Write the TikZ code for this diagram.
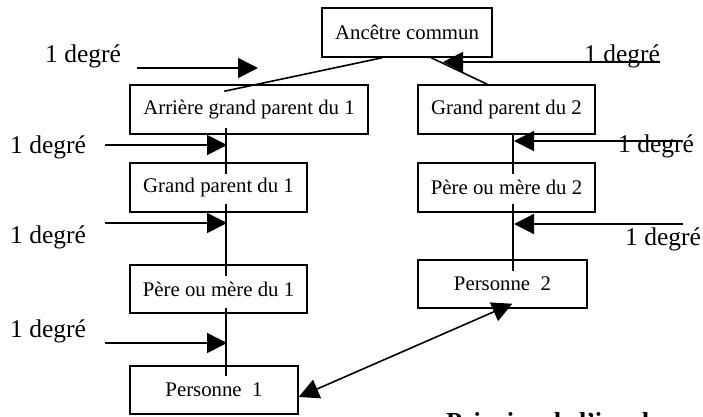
\documentclass[tikz,border=0pt]{standalone}
\usepackage{fontspec}
\setmainfont{Liberation Serif}
\usetikzlibrary{arrows.meta,calc}
\tikzset{
  box/.style={draw, line width=1.5pt, inner sep=0pt, font=\fontsize{20.8}{24}\selectfont},
  conn/.style={line width=1.6pt},
  degarrow/.style={line width=1.6pt, -{Triangle[length=20pt,width=20pt]}},
  both/.style={line width=1.6pt, {Triangle[length=20pt,width=20pt]}-{Triangle[length=20pt,width=20pt]}},
  deg/.style={inner sep=0pt, font=\fontsize{25.5}{30}\selectfont},
  heading/.style={inner sep=0pt, font=\fontsize{26}{30}\selectfont\bfseries}
}
\begin{document}
\begin{tikzpicture}[x=1pt,y=-1pt]
\useasboundingbox (0,0) rectangle (703,416);
% boxes
\node[box, minimum width=170pt, minimum height=49pt] (anc) at (407,32.5) {Ancêtre commun};
\node[box, minimum width=238pt, minimum height=49pt] (agp1) at (249,109.5) {Arrière grand parent du 1};
\node[box, minimum width=177pt, minimum height=49pt] (gp2) at (506.5,109.5) {Grand parent du 2};
\node[box, minimum width=177pt, minimum height=49pt] (gp1) at (218.5,187.5) {Grand parent du 1};
\node[box, minimum width=177pt, minimum height=49pt] (pm2) at (506.5,187.5) {Père ou mère du 2};
\node[box, minimum width=177pt, minimum height=48pt] (pm1) at (218.5,289) {Père ou mère du 1};
\node[box, minimum width=169pt, minimum height=48pt] (p2) at (502.5,284) {Personne\ \ 2};
\node[box, minimum width=168pt, minimum height=48pt] (p1) at (214,390) {Personne\ \ 1};
% lineage lines
\draw[conn] ([xshift=61pt]anc.south west) -- ([xshift=95pt,yshift=-7pt]agp1.north west);
\draw[conn] ([xshift=110pt]anc.south west) -- ([xshift=70pt]gp2.north west);
\draw[conn] ([xshift=97pt,yshift=7pt]agp1.south west) -- ([xshift=97pt,yshift=-12pt]gp1.north west);
\draw[conn] ([xshift=97pt,yshift=9pt]gp1.south west) -- ([xshift=97pt,yshift=-12pt]pm1.north west);
\draw[conn] ([xshift=97pt,yshift=6pt]pm1.south west) -- ([xshift=97pt,yshift=-11pt]p1.north west);
\draw[conn] ([xshift=96pt]gp2.south west) -- ([xshift=96pt,yshift=-12pt]pm2.north west);
\draw[conn] ([xshift=96pt,yshift=9pt]pm2.south west) -- ([xshift=96pt,yshift=-12pt]p2.north west);
% degree labels
\node[deg, anchor=base west] (d1) at (45,62) {1 degré};
\node[deg, anchor=base west] (d2) at (10,153) {1 degré};
\node[deg, anchor=base west] (d3) at (10,243) {1 degré};
\node[deg, anchor=base west] (d4) at (10,337) {1 degré};
\node[deg, anchor=base west] (d5) at (584,62) {1 degré};
\node[deg, anchor=base west] (d6) at (618,152) {1 degré};
\node[deg, anchor=base west] (d7) at (625,245) {1 degré};
% degree arrows
\coordinate (a1s) at (137,68);  \coordinate (a1e) at (258,68);
\coordinate (a2s) at (105,145); \coordinate (a2e) at (227,145);
\coordinate (a3s) at (105,223); \coordinate (a3e) at (227,223);
\coordinate (a4s) at (105,343); \coordinate (a4e) at (227,343);
\coordinate (a5s) at (660,62);  \coordinate (a5e) at (443,62);
\coordinate (a6s) at (683,141); \coordinate (a6e) at (514,141);
\coordinate (a7s) at (683,224); \coordinate (a7e) at (514,224);
\draw[degarrow] (a1s) -- (a1e);
\draw[degarrow] (a2s) -- (a2e);
\draw[degarrow] (a3s) -- (a3e);
\draw[degarrow] (a4s) -- (a4e);
\draw[degarrow] (a5s) -- (a5e);
\draw[degarrow] (a6s) -- (a6e);
\draw[degarrow] (a7s) -- (a7e);
% link between the two persons
\draw[both] ([yshift=-7pt]p1.east) -- ([xshift=95pt,yshift=5pt]p2.south west);
% heading (cut by the page edge, as in the reference)
\node[heading, anchor=base west] (title) at (446,430) {Principe de l'inc de};
\end{tikzpicture}
\end{document}
